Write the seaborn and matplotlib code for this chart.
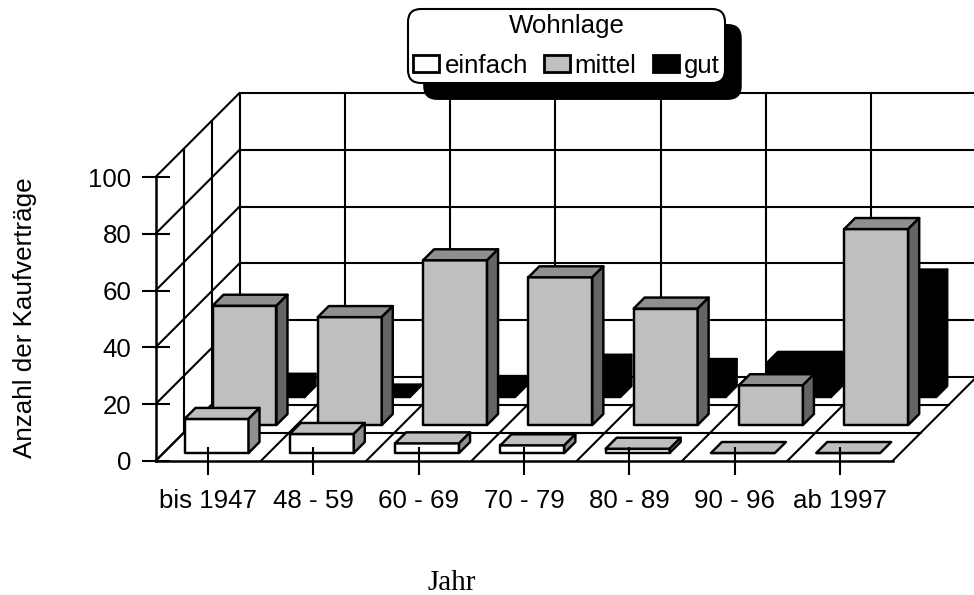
import numpy as np
import pandas as pd
import matplotlib
matplotlib.use("Agg")
import matplotlib.pyplot as plt
from matplotlib.patches import Polygon, Patch
import seaborn as sns

years = ["bis 1947", "48 - 59", "60 - 69", "70 - 79", "80 - 89", "90 - 96", "ab 1997"]
einfach = [12, 6.7, 3.4, 2.7, 1.5, 0, 0]
mittel = [42, 38, 58, 52, 41, 14, 69]
gut = [4.3, 0.5, 3.5, 11, 9.5, 12, 41]
series_names = ["einfach", "mittel", "gut"]
y_ticks = [0, 20, 40, 60, 80, 100]

sns.set_style("white")
plt.rcParams["font.family"] = ["Liberation Sans", "DejaVu Sans"]
plt.rcParams["text.color"] = "black"

W, H = 974, 595
AX_W = 737
PX_X, PX_Y = AX_W / 7, 284 / 100
DEPTH_X, DEPTH_Y = 84 / PX_X, 84 / PX_Y
LW = 1.5
BAR_LW = 1.75
FS = 18.6

fig = plt.figure(figsize=(W / 100, H / 100), dpi=100, facecolor="white")
ax = fig.add_axes([155.5 / W, 1 - 461 / H, AX_W / W, 284 / H])
ax.patch.set_visible(False)


def line(xs, ys, lw=LW):
    ax.plot(xs, ys, color="black", lw=lw, zorder=1, clip_on=False, solid_capstyle="round")


# back wall
for v in y_ticks:
    line([DEPTH_X, 7 + DEPTH_X], [v + DEPTH_Y] * 2)
    line([0, DEPTH_X], [v, v + DEPTH_Y])
for i in range(7):
    line([DEPTH_X + i] * 2, [DEPTH_Y, 100 + DEPTH_Y])
# left wall verticals and floor
for f in (1 / 3, 2 / 3):
    line([DEPTH_X * f] * 2, [DEPTH_Y * f, 100 + DEPTH_Y * f])
    line([DEPTH_X * f, 7 + DEPTH_X * f], [DEPTH_Y * f] * 2)
for i in range(8):
    line([i, i + DEPTH_X], [0, DEPTH_Y])

# bars
df = pd.DataFrame({"year": years * 3,
                   "pos": list(range(7)) * 3,
                   "series": np.repeat(series_names, 7),
                   "value": einfach + mittel + gut})
styles = {
    "einfach": ("#FFFFFF", "#BFBFBF", "#8F8F8F", 0),
    "mittel": ("#BFBFBF", "#8F8F8F", "#646464", 1),
    "gut": ("#000000", "#000000", "#000000", 2),
}
side_x, side_y = 11 / PX_X, 11 / PX_Y
bar_w = 64 / PX_X
for name in ["gut", "mittel", "einfach"]:
    front, top, side, k = styles[name]
    sub = df[df["series"] == name]
    x_pos = sub["pos"].to_numpy() + (29 + 28 * k + 32) / PX_X
    base = (8 + 28 * k) / PX_Y
    z = 1.4 - 0.1 * k
    before = len(ax.patches)
    sns.barplot(x=x_pos, y=sub["value"].to_numpy(), native_scale=True, orient="x",
                width=bar_w, color=front, saturation=1, edgecolor="black", linewidth=BAR_LW,
                errorbar=None, ax=ax, zorder=z, clip_on=False)
    for p in ax.patches[before:]:
        p.set_y(base)
        p.set_joinstyle("round")
        x0, y0, w, h = p.get_x(), base, p.get_width(), p.get_height()
        y1 = y0 + h
        ax.add_patch(Polygon([(x0, y1), (x0 + w, y1), (x0 + w + side_x, y1 + side_y), (x0 + side_x, y1 + side_y)],
                             closed=True, fc=top, ec="black", lw=BAR_LW, zorder=z, clip_on=False, joinstyle="round"))
        if h > 0:
            ax.add_patch(Polygon([(x0 + w, y0), (x0 + w + side_x, y0 + side_y), (x0 + w + side_x, y1 + side_y), (x0 + w, y1)],
                                 closed=True, fc=side, ec="black", lw=BAR_LW, zorder=z, clip_on=False, joinstyle="round"))

ax.set_xlim(0, 7)
ax.set_ylim(0, 100)
ax.set_axisbelow(False)
for s in ("top", "right"):
    ax.spines[s].set_visible(False)
for s in ("left", "bottom"):
    ax.spines[s].set_linewidth(LW + 0.3)
    ax.spines[s].set_color("black")
    ax.spines[s].set_zorder(2)
ax.set_yticks(y_ticks)
ax.set_xticks(np.arange(7) + 0.5, years)
ax.tick_params(axis="both", which="major", direction="inout", length=19.5, width=LW,
               color="black", labelsize=FS, labelcolor="black", left=True, bottom=True)
ax.tick_params(axis="x", pad=10.5)
ax.tick_params(axis="y", pad=7.5)

ax.set_xlabel("Jahr", family="Liberation Serif", fontsize=21, color="black")
ax.xaxis.set_label_coords((452 - 155.5) / AX_W, (461 - 570) / 284)
ax.set_ylabel("Anzahl der Kaufverträge", fontsize=18.7, color="black")
ax.yaxis.set_label_coords((37 - 155.5) / AX_W, (461 - 318) / 284)

handles = [Patch(facecolor=styles[n][0], edgecolor="black", linewidth=2, label=n) for n in series_names]
leg = ax.legend(handles=handles, title="Wohnlage", ncol=3, fontsize=FS, title_fontsize=FS,
                loc="center", bbox_to_anchor=((406 + 727) / 2 / W, 1 - 46 / H),
                bbox_transform=fig.transFigure,
                handlelength=1.0, handleheight=0.62, handletextpad=0.2, columnspacing=0.62,
                borderpad=0.2, borderaxespad=0, labelspacing=0.6, frameon=True, framealpha=1,
                facecolor="white", edgecolor="black",
                shadow={"ox": 11.5, "oy": -11.5, "facecolor": "black", "edgecolor": "black", "alpha": 1})
leg.get_frame().set_linewidth(LW)
leg.get_frame().set_boxstyle("round", pad=0, rounding_size=0.5)
leg.set_zorder(5)

fig.savefig("out.png", dpi=100, facecolor="white")
